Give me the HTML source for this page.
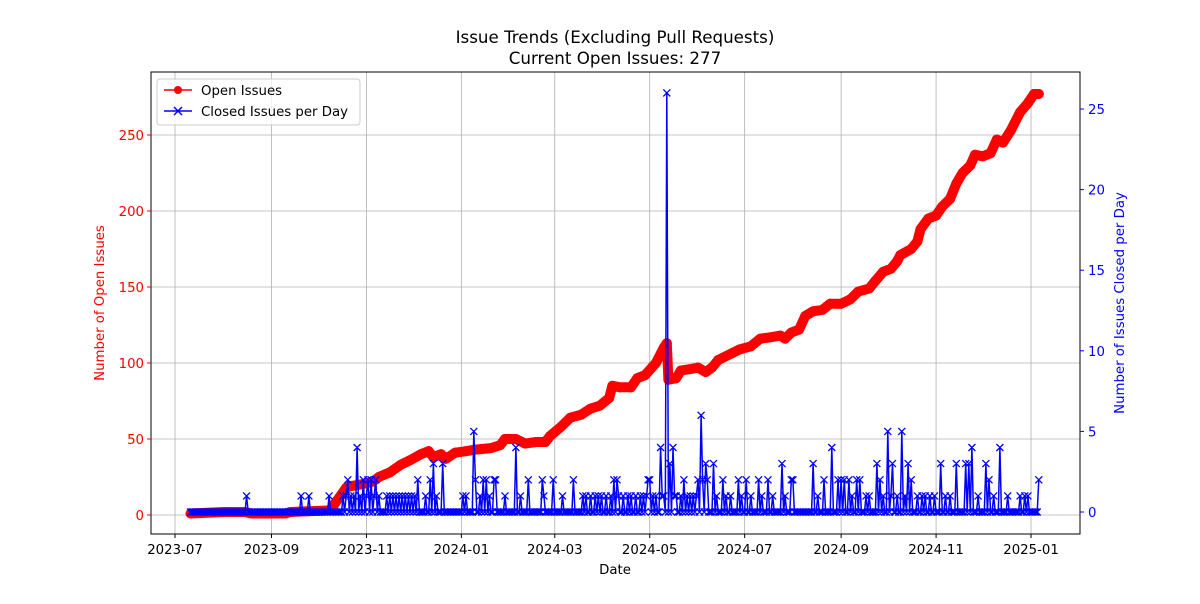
<!DOCTYPE html>
<html><head><meta charset="utf-8"><style>
body{margin:0;background:#fff;font-family:"DejaVu Sans","Liberation Sans",sans-serif}
svg text{font-family:"DejaVu Sans","Liberation Sans",sans-serif}
</style></head><body>
<svg id="chart" width="1200" height="600" viewBox="0 0 1200 600" xmlns="http://www.w3.org/2000/svg">
<rect width="1200" height="600" fill="#fff"/>
<text x="615" y="43" font-size="16.7" text-anchor="middle">Issue Trends (Excluding Pull Requests)</text>
<text x="615" y="64" font-size="16.7" text-anchor="middle">Current Open Issues: 277</text>
<g id="grid"></g>
<g id="openSeries"></g>
<g id="closedSeries"></g>
<rect x="151" y="72" width="929" height="462" fill="none" stroke="#000" stroke-width="1"/>
<g id="axes"></g>
<text x="615" y="574" font-size="13.3" text-anchor="middle">Date</text>
<text transform="translate(104,303) rotate(-90)" font-size="13.3" fill="red" text-anchor="middle">Number of Open Issues</text>
<text transform="translate(1124,303) rotate(-90)" font-size="13.3" fill="blue" text-anchor="middle">Number of Issues Closed per Day</text>
<g>
<rect x="157" y="79" width="203" height="46" rx="3" fill="#fff" fill-opacity="0.8" stroke="#ccc"/>
<g>
<line x1="164" y1="90" x2="192" y2="90" stroke="red" stroke-width="1.5"/><circle cx="178" cy="90" r="4" fill="red"/>
<text x="201" y="95" font-size="13.3">Open Issues</text></g>
<g>
<line x1="164" y1="111" x2="192" y2="111" stroke="blue" stroke-width="1.5"/>
<path d="M174 107 L182 115 M182 107 L174 115" stroke="blue" stroke-width="1.5"/>
<text x="201" y="116" font-size="13.3">Closed Issues per Day</text></g>
</g>
</svg>
<script>
const openDays=[0,22,35,39,61,64,90,93,98,100,103,109,117,121,128,135,141,148,153,156,161,164,170,177,183,193,199,202,209,215,222,228,231,238,244,251,257,263,269,271,276,283,287,292,299,304,306,307,312,315,321,326,331,335,339,347,353,360,366,373,379,382,386,391,395,400,406,411,418,424,429,436,440,445,450,454,456,463,467,469,474,479,483,488,492,496,501,504,509,514,518,522,527,533,538,542,545];
const openVals=[1,2,2,1,1,2,3,8,15,18,19,20,22,25,28,33,36,40,42,38,40,37,41,42,43,44,46,50,50,47,48,48,52,58,64,66,70,72,77,85,84,84,90,92,100,110,113,89,90,95,96,97,94,97,102,106,109,111,116,117,118,116,120,122,131,134,135,139,139,142,147,149,154,160,162,167,171,175,180,188,195,197,203,208,218,225,230,237,236,238,247,245,253,265,271,277,277];
const closedDays=[36,71,76,89,98,100,101,103,105,107,109,111,113,114,116,118,119,121,126,128,130,132,134,136,138,140,142,144,146,151,154,156,158,162,175,177,182,183,186,188,190,192,195,196,202,209,212,217,226,227,233,239,246,252,254,257,260,262,264,267,270,272,274,275,278,281,283,286,289,291,293,294,295,297,299,302,303,304,306,308,310,311,312,315,317,319,321,323,325,326,328,329,331,332,336,338,342,344,347,352,354,357,360,365,367,371,374,380,382,386,387,400,403,407,412,416,418,420,423,425,428,430,434,436,441,443,445,448,450,451,454,457,459,461,463,467,470,472,475,478,482,485,488,492,498,500,502,506,511,513,516,520,525,533,536,538,545];
const closedVals=[1,1,1,1,1,1,2,1,1,4,1,2,1,2,2,1,2,1,1,1,1,1,1,1,1,1,1,1,2,1,2,3,1,3,1,1,5,2,1,2,2,1,2,2,1,4,1,2,2,1,2,1,2,1,1,1,1,1,1,1,1,2,2,1,1,1,1,1,1,1,1,2,2,1,1,4,1,1,26,3,4,1,1,1,2,1,1,1,1,2,6,2,3,2,3,1,2,1,1,2,1,2,1,2,1,2,1,3,1,2,2,3,1,2,4,2,2,2,2,1,2,2,1,1,3,2,1,5,1,3,1,5,1,3,2,1,1,1,1,1,3,1,1,3,3,3,4,1,3,2,1,4,1,1,1,1,2];
const nDays=546;
const xTickLabels=["2023-07","2023-09","2023-11","2024-01","2024-03","2024-05","2024-07","2024-09","2024-11","2025-01"];
const xTickOffsets=[0,62,123,184,244,305,366,428,489,550];
const leftTicks=[0,50,100,150,200,250];
const rightTicks=[0,5,10,15,20,25];

const NS="http://www.w3.org/2000/svg";
const PX_PER_DAY=1.5564;
function xOff(o){return 175+o*PX_PER_DAY;}
function xDay(d){return xOff(d+10);}
function yL(v){return 515-v*1.52;}
function yR(v){return 512-v*16.12;}
function mk(tag,attrs,parent){const e=document.createElementNS(NS,tag);for(const k in attrs)e.setAttribute(k,attrs[k]);parent.appendChild(e);return e;}

const grid=document.getElementById('grid'),axes=document.getElementById('axes');
xTickOffsets.forEach((o,i)=>{
  const x=xOff(o);
  const g=mk('line',{x1:x,y1:72,x2:x,y2:534,stroke:'#b0b0b0','stroke-width':0.8},grid);
  
  
  const t=mk('line',{x1:x,y1:534,x2:x,y2:538,stroke:'#000'},axes);
  
  
  const l=mk('text',{x:x,y:554,'font-size':13.3,'text-anchor':'middle'},axes);
  l.textContent=xTickLabels[i];
  
  
});
leftTicks.forEach(v=>{
  const y=yL(v);
  const g=mk('line',{x1:151,y1:y,x2:1080,y2:y,stroke:'#b0b0b0','stroke-width':0.8},grid);
  
  
  const t=mk('line',{x1:147,y1:y,x2:151,y2:y,stroke:'red'},axes);
  
  
  const l=mk('text',{x:144,y:y+5,'font-size':13.3,'text-anchor':'end',fill:'red'},axes);
  l.textContent=v;
  
  
});
rightTicks.forEach(v=>{
  const y=yR(v);
  const t=mk('line',{x1:1080,y1:y,x2:1084,y2:y,stroke:'blue'},axes);
  
  
  const l=mk('text',{x:1088,y:y+5,'font-size':13.3,fill:'blue'},axes);
  l.textContent=v;
  
  
});

const og=document.getElementById('openSeries');
const opts=openDays.map((d,i)=>xDay(d).toFixed(1)+','+yL(openVals[i]).toFixed(1)).join(' ');
const band=mk('polyline',{points:opts,fill:'none',stroke:'red','stroke-width':10,'stroke-linejoin':'round','stroke-linecap':'round'},og);


openDays.forEach((d,i)=>{
  const c=mk('circle',{cx:xDay(d),cy:yL(openVals[i]),r:5,fill:'red'},og);
  
  
});

const closed=new Array(nDays).fill(0);
closedDays.forEach((d,i)=>{closed[d]=closedVals[i];});
const cg=document.getElementById('closedSeries');
const cpts=closed.map((v,d)=>xDay(d).toFixed(1)+','+yR(v).toFixed(1)).join(' ');
const cl=mk('polyline',{points:cpts,fill:'none',stroke:'blue','stroke-width':1.5,'stroke-linejoin':'round'},cg);


let pd='';
closed.forEach((v,d)=>{const x=xDay(d),y=yR(v);pd+=`M${(x-3.5).toFixed(1)} ${(y-3.5).toFixed(1)}L${(x+3.5).toFixed(1)} ${(y+3.5).toFixed(1)}M${(x+3.5).toFixed(1)} ${(y-3.5).toFixed(1)}L${(x-3.5).toFixed(1)} ${(y+3.5).toFixed(1)}`;});
const cm=mk('path',{d:pd,stroke:'blue','stroke-width':1.3,fill:'none'},cg);


</script>
</body></html>
